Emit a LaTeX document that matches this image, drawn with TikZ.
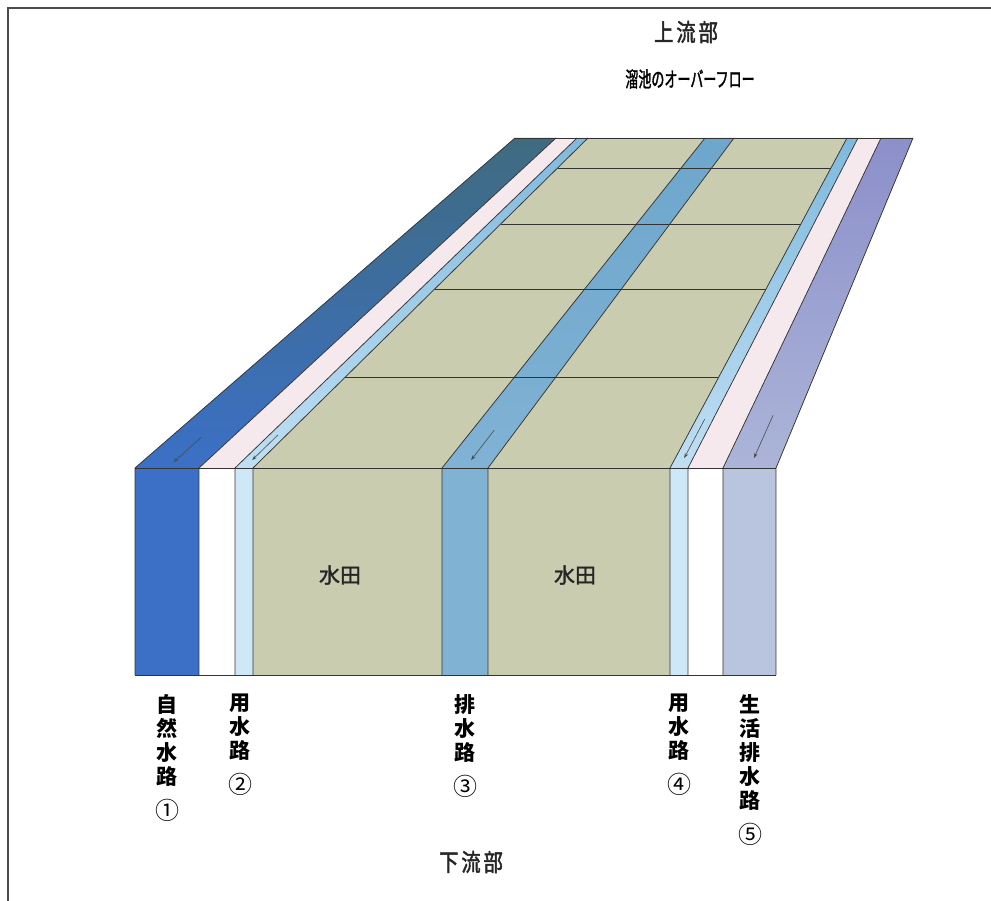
\documentclass[tikz,border=0pt]{standalone}
\usepackage{fontspec}
\usepackage{tikz}
\usetikzlibrary{calc,arrows.meta}

\newfontfamily\jp{Noto Sans CJK JP}
\newfontfamily\jpmid[FakeBold=1.5]{Noto Sans CJK JP}
\newfontfamily\jpnarrow[FakeStretch=0.62, FakeBold=1.5]{Noto Sans CJK JP}
\newfontfamily\jphead[FakeStretch=0.8, FakeBold=2]{Noto Sans CJK JP}

\definecolor{natural}{HTML}{3B70C6}
\definecolor{naturalback}{HTML}{3F6B80}
\definecolor{feed}{HTML}{CFE8F8}
\definecolor{feedback}{HTML}{80B9DE}
\definecolor{paddy}{HTML}{CACCAF}
\definecolor{drain}{HTML}{80B2D4}
\definecolor{drainback}{HTML}{6EA6CC}
\definecolor{levee}{HTML}{F5E9EE}
\definecolor{house}{HTML}{B9C5DE}
\definecolor{houseback}{HTML}{8C8FCA}

\newcommand{\num}[1]{{\mdseries\fontsize{24}{24}\selectfont #1}}

\begin{document}
\begin{tikzpicture}[x=1pt, y=-1pt]
\tikzstyle{every node} = [font=\jp, inner sep=0pt]
\tikzstyle{edge} = [draw=black!80, line width=0.75pt]
\tikzstyle{flow} = [draw=black!70, line width=0.6pt, -{Stealth[length=5pt, width=3.5pt]}]
\tikzstyle{channel} = [font=\jp\bfseries\fontsize{21}{24}\selectfont, align=center, anchor=north]
\tikzstyle{heading} = [font=\jphead\fontsize{24}{24}\selectfont, text=black!85]
\tikzstyle{field} = [font=\jpmid\fontsize{21}{21}\selectfont, text=black!85]
\tikzstyle{natural top} = [top color=naturalback, bottom color=natural]
\tikzstyle{feed top} = [top color=feedback, bottom color=feed!80!feedback]
\tikzstyle{levee top} = [fill=levee]
\tikzstyle{paddy top} = [fill=paddy]
\tikzstyle{drain top} = [top color=drainback, bottom color=drain]
\tikzstyle{house top} = [top color=houseback, bottom color=house!70!houseback]

\useasboundingbox (0,0) rectangle (991,901);
\draw[line width=1.2pt, black!70] (8,901) -- (8,8) -- (991,8);

% strip borders: front edge, back edge, foot
\foreach \i/\xf/\xb in {1/135/515, 2/199/556, 3/235/577, 4/253/588, 5/442/705,
                        6/488/734, 7/670/847, 8/688/858, 9/723/881, 10/776/913} {
  \coordinate (f\i) at (\xf,468);
  \coordinate (b\i) at (\xb,138);
  \coordinate (d\i) at (\xf,675);
}

% top face
\foreach \a/\b/\look in {1/2/natural top, 2/3/levee top, 3/4/feed top, 4/5/paddy top,
                         5/6/drain top, 6/7/paddy top, 7/8/feed top, 8/9/levee top, 9/10/house top}
  \path[\look] (f\a) -- (f\b) -- (b\b) -- (b\a) -- cycle;

% front face
\foreach \a/\b/\col in {1/2/natural, 2/3/white, 3/4/feed, 4/5/paddy, 5/6/drain,
                        6/7/paddy, 7/8/feed, 8/9/white, 9/10/house}
  \fill[\col] (f\a) rectangle (d\b);

% levees between the fields
\foreach \y in {168, 224, 289, 377}
  \draw[edge] ($(f4)!{(468-\y)/330}!(b4)$) -- ($(f7)!{(468-\y)/330}!(b7)$);

\foreach \i in {1,...,10}
  \draw[edge] (d\i) -- (f\i) -- (b\i);
\draw[edge] (d1) -- (d10);
\draw[edge] (f1) -- (f10);
\draw[edge] (b1) -- (b10);

% flow direction in each channel
\foreach \a/\b/\s/\e in {1/2/0.094/0.018, 3/4/0.1/0.024, 5/6/0.115/0.024,
                         7/8/0.148/0.03, 9/10/0.16/0.03} {
  \coordinate (fc\a) at ($(f\a)!0.5!(f\b)$);
  \coordinate (bc\a) at ($(b\a)!0.5!(b\b)$);
  \draw[flow] ($(fc\a)!\s!(bc\a)$) -- ($(fc\a)!\e!(bc\a)$);
}

\node[field] (field1) at (340,575) {水田};
\node[field] (field2) at (575,575) {水田};

\node[channel] (ch1) at (167,694) {自\\然\\水\\路\\[11pt]\num{①}};
\node[channel] (ch2) at (240,694) {用\\水\\路\\[11pt]\num{②}};
\node[channel] (ch3) at (465,694) {排\\水\\路\\[11pt]\num{③}};
\node[channel] (ch4) at (679,694) {用\\水\\路\\[11pt]\num{④}};
\node[channel] (ch5) at (750,694) {生\\活\\排\\水\\路\\[11pt]\num{⑤}};

\node[heading] (up) at (686,32) {上\hspace{3pt}流\hspace{3pt}部};
\node[font=\jpnarrow\fontsize{21}{21}\selectfont] (pond) at (690,79) {溜池のオーバーフロー};
\node[heading] (down) at (471,862) {下\hspace{3pt}流\hspace{3pt}部};
\end{tikzpicture}
\end{document}
